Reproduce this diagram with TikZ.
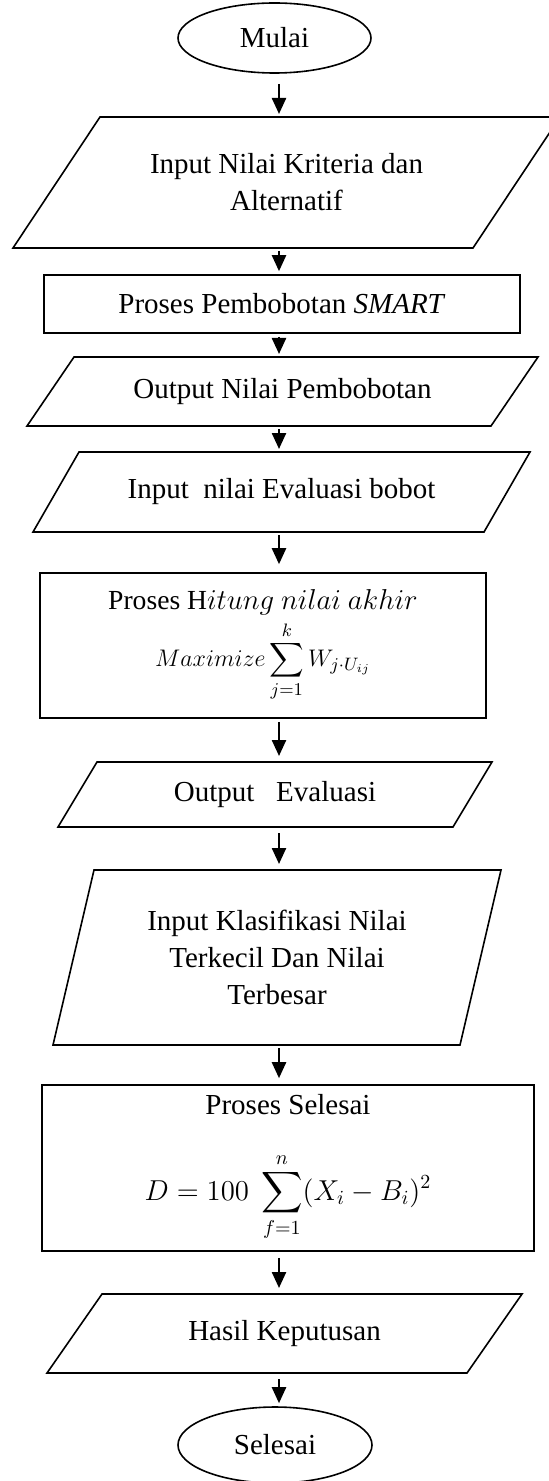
\documentclass[tikz,border=0pt]{standalone}
\usepackage{amsmath}
\usepackage{fontspec}
\setmainfont{Liberation Serif}
\usetikzlibrary{positioning}
\usetikzlibrary{shapes.geometric}
\usetikzlibrary{arrows.meta}

\begin{document}
\begin{tikzpicture}[
  x=0.5pt, y=-0.5pt,
  font=\fontsize{14.5}{18.5}\selectfont,
  terminal/.style={ellipse, draw, line width=0.8pt, inner sep=0pt},
  io/.style={rectangle, align=center, inner sep=0pt, outer sep=0pt},
  outline/.style={draw, line width=0.8pt, line join=miter},
  process/.style={rectangle, draw, line width=0.8pt, align=center, inner sep=2pt},
  arrow/.style={-{Triangle[length=8pt, width=7pt]}, line width=1.2pt, shorten <=1.5pt, shorten >=1.5pt}
]
\useasboundingbox (0,0) rectangle (549,1481);

% Terminals
\node[terminal, minimum width=96.5pt, minimum height=35pt] (mulai) at (274.5,38) {Mulai};
\node[terminal, minimum width=97pt, minimum height=38pt] (selesai) at (275,1445) {Selesai};

% Input / output
\node[io, minimum width=273.5pt, minimum height=65.5pt] (p1) at (286.5,182.5) {Input Nilai Kriteria dan\\Alternatif};
\node[io, minimum width=255.5pt, minimum height=34.5pt] (p2) at (282.5,391.5) {Output Nilai Pembobotan};
\node[io, minimum width=248.5pt, minimum height=40pt] (p3) at (281.5,492) {Input~~nilai Evaluasi bobot};
\node[io, minimum width=217pt, minimum height=32.5pt] (p4) at (275,794.5) {Output~~~Evaluasi};
\node[io, minimum width=224pt, minimum height=87.5pt] (p5) at (277,957.5) {Input Klasifikasi Nilai\\Terkecil Dan Nilai\\Terbesar};
\node[io, minimum width=237.5pt, minimum height=39.5pt] (p6) at (284.5,1333.5) {Hasil Keputusan};

% Parallelogram outlines
\draw[outline] (p1.south west) -- ([xshift=-43.5pt]p1.south east) -- (p1.north east) -- ([xshift=43.5pt]p1.north west) -- cycle;
\draw[outline] (p2.south west) -- ([xshift=-23.5pt]p2.south east) -- (p2.north east) -- ([xshift=23.5pt]p2.north west) -- cycle;
\draw[outline] (p3.south west) -- ([xshift=-23pt]p3.south east) -- (p3.north east) -- ([xshift=23pt]p3.north west) -- cycle;
\draw[outline] (p4.south west) -- ([xshift=-19.5pt]p4.south east) -- (p4.north east) -- ([xshift=19.5pt]p4.north west) -- cycle;
\draw[outline] (p5.south west) -- ([xshift=-20.5pt]p5.south east) -- (p5.north east) -- ([xshift=20.5pt]p5.north west) -- cycle;
\draw[outline] (p6.south west) -- ([xshift=-27.5pt]p6.south east) -- (p6.north east) -- ([xshift=27.5pt]p6.north west) -- cycle;

% Processes
\node[process, minimum width=238pt, minimum height=29pt] (r1) at (282,304) {Proses Pembobotan \textit{SMART}};
\node[process, minimum width=223pt, minimum height=72.5pt] (r2) at (263,645.5) {{\fontsize{13.8}{16}\selectfont$\mathrm{Proses\ H}itung\ nilai\ akhir$}\\[2pt]{\fontsize{12.5}{15}\selectfont$\displaystyle Maximize\sum_{j=1}^{k}W_{j\cdot U_{ij}}$}};
\node[process, minimum width=246pt, minimum height=83pt] (r3) at (288,1168) {Proses Selesai\\[18pt]$\displaystyle D=100\ \sum_{f=1}^{n}(X_i-B_i)^2$};

% Flow
\coordinate (col) at (279,0);
\draw[arrow, shorten <=5pt] (mulai.south -| col) -- (p1.north -| col);
\draw[arrow] (p1.south -| col) -- (r1.north -| col);
\draw[arrow] (r1.south -| col) -- (p2.north -| col);
\draw[arrow] (p2.south -| col) -- (p3.north -| col);
\draw[arrow, shorten >=4pt] (p3.south -| col) -- (r2.north -| col);
\draw[arrow, shorten >=3pt] (r2.south -| col) -- (p4.north -| col);
\draw[arrow, shorten <=3pt, shorten >=3pt] (p4.south -| col) -- (p5.north -| col);
\draw[arrow, shorten >=3pt] (p5.south -| col) -- (r3.north -| col);
\draw[arrow, shorten <=3pt, shorten >=3pt] (r3.south -| col) -- (p6.north -| col);
\draw[arrow, shorten <=3pt] (p6.south -| col) -- (selesai.north -| col);

\end{tikzpicture}
\end{document}
